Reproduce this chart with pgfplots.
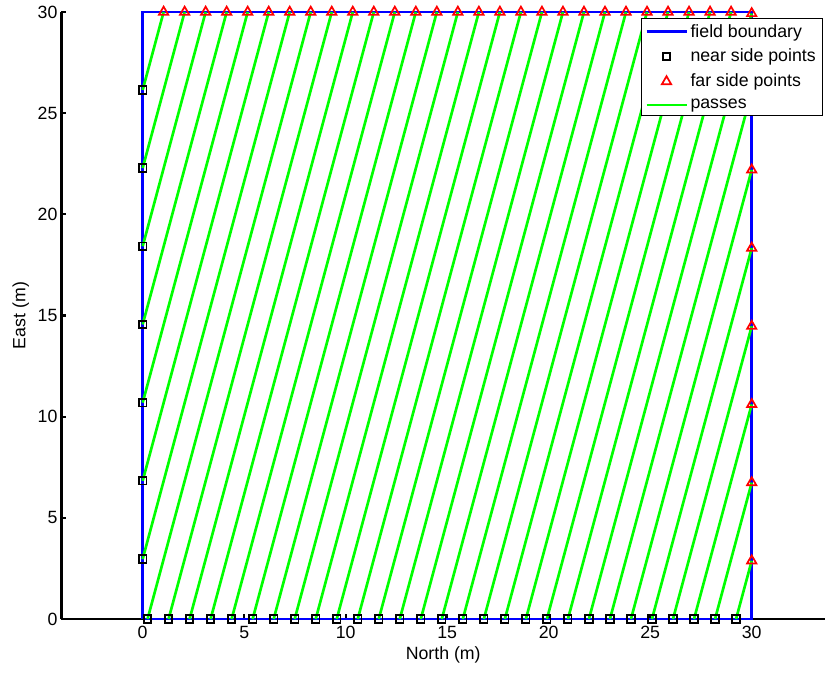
\documentclass[border=0pt]{standalone}
\usepackage{fontspec}
\setmainfont{Liberation Sans}
\usepackage{pgfplots}
\pgfplotsset{compat=1.18}
\begin{document}
\begin{tikzpicture}
\useasboundingbox (-46.1pt,-39.75pt) rectangle (572.6pt,464.25pt);
\begin{axis}[
  scale only axis, width=572.6pt, height=455.25pt,
  xmin=-4, xmax=33.61, ymin=0, ymax=30,
  axis lines=left,
  axis line style={-, line width=1.6pt, black},
  tick align=inside, major tick length=3.75pt,
  tick style={line width=1.6pt, black},
  xtick={0,5,...,30}, ytick={0,5,...,30},
  /pgf/number format/assume math mode=true,
  tick label style={font=\fontsize{13.3}{16}\selectfont},
  label style={font=\fontsize{13.3}{16}\selectfont},
  yticklabel style={xshift=0.5pt},
  xticklabel style={yshift=-2pt},
  xlabel={North (m)}, ylabel={East (m)},
  xlabel style={at={(axis description cs:0.5,-0.0593)}, anchor=center},
  ylabel style={at={(axis description cs:-0.0534,0.5)}, anchor=center},
  clip=false,
  unbounded coords=jump,
  legend image code/.code={\draw[mark repeat=2,mark phase=2,#1] plot coordinates {(0pt,0pt) (15pt,0pt) (30pt,0pt)};},
  legend cell align=left,
  legend style={at={(0.7586,0.9896)}, anchor=north west, draw=black, line width=0.75pt, fill=white,
    font=\fontsize{13.3}{16}\selectfont, row sep=3.6pt},
]
% field boundary
\addplot[blue, line width=2pt] coordinates {(0,0) (30,0) (30,30) (0,30) (0,0)};
\addlegendentry{field boundary}
% near side points
\addplot[only marks, mark=square, mark size=2.8pt, black, line width=1.3pt] coordinates {
(0,26.150) (0,22.287) (0,18.423) (0,14.559) (0,10.695) (0,6.832) (0,2.968)
(0.24,0) (1.2753,0) (2.3106,0) (3.3458,0) (4.3811,0) (5.4164,0) (6.4517,0)
(7.4870,0) (8.5222,0) (9.5575,0) (10.5928,0) (11.6281,0) (12.6634,0) (13.6986,0)
(14.7339,0) (15.7692,0) (16.8045,0) (17.8398,0) (18.8750,0) (19.9103,0) (20.9456,0)
(21.9809,0) (23.0162,0) (24.0514,0) (25.0867,0) (26.1220,0) (27.1573,0) (28.1926,0) (29.2278,0)
};
\addlegendentry{near side points}
% far side points
\addplot[only marks, mark=triangle, mark size=4pt, red, line width=1.3pt] coordinates {
(1.0315,30) (2.0668,30) (3.1021,30) (4.1374,30) (5.1726,30) (6.2079,30) (7.2432,30)
(8.2785,30) (9.3138,30) (10.3490,30) (11.3843,30) (12.4196,30) (13.4549,30) (14.4902,30)
(15.5254,30) (16.5607,30) (17.5960,30) (18.6313,30) (19.6666,30) (20.7018,30) (21.7371,30)
(22.7724,30) (23.8077,30) (24.8430,30) (25.8782,30) (26.9135,30) (27.9488,30) (28.9840,30)
(30,29.928) (30,26.064) (30,22.200) (30,18.337) (30,14.473) (30,10.609) (30,6.745) (30,2.882)
};
\addlegendentry{far side points}
% passes
\addplot[green, line width=2pt] coordinates {
(0,26.150) (1.0315,30) (nan,nan)
(0,22.287) (2.0668,30) (nan,nan)
(0,18.423) (3.1021,30) (nan,nan)
(0,14.559) (4.1374,30) (nan,nan)
(0,10.695) (5.1726,30) (nan,nan)
(0,6.832) (6.2079,30) (nan,nan)
(0,2.968) (7.2432,30) (nan,nan)
(0.24,0) (8.2785,30) (nan,nan)
(1.2753,0) (9.3138,30) (nan,nan)
(2.3106,0) (10.3490,30) (nan,nan)
(3.3458,0) (11.3843,30) (nan,nan)
(4.3811,0) (12.4196,30) (nan,nan)
(5.4164,0) (13.4549,30) (nan,nan)
(6.4517,0) (14.4902,30) (nan,nan)
(7.4870,0) (15.5254,30) (nan,nan)
(8.5222,0) (16.5607,30) (nan,nan)
(9.5575,0) (17.5960,30) (nan,nan)
(10.5928,0) (18.6313,30) (nan,nan)
(11.6281,0) (19.6666,30) (nan,nan)
(12.6634,0) (20.7018,30) (nan,nan)
(13.6986,0) (21.7371,30) (nan,nan)
(14.7339,0) (22.7724,30) (nan,nan)
(15.7692,0) (23.8077,30) (nan,nan)
(16.8045,0) (24.8430,30) (nan,nan)
(17.8398,0) (25.8782,30) (nan,nan)
(18.8750,0) (26.9135,30) (nan,nan)
(19.9103,0) (27.9488,30) (nan,nan)
(20.9456,0) (28.9840,30) (nan,nan)
(21.9809,0) (30,29.928) (nan,nan)
(23.0162,0) (30,26.064) (nan,nan)
(24.0514,0) (30,22.200) (nan,nan)
(25.0867,0) (30,18.337) (nan,nan)
(26.1220,0) (30,14.473) (nan,nan)
(27.1573,0) (30,10.609) (nan,nan)
(28.1926,0) (30,6.745) (nan,nan)
(29.2278,0) (30,2.882)
};
\addlegendentry{passes}
\end{axis}
\end{tikzpicture}
\end{document}
